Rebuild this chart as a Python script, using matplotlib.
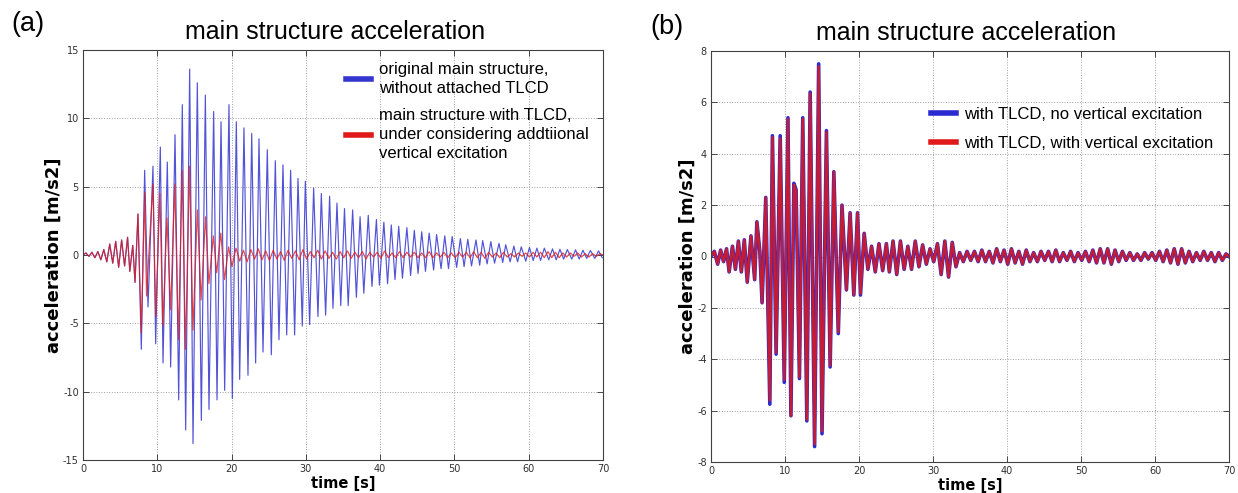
import matplotlib
matplotlib.use("Agg")
import matplotlib.pyplot as plt
import numpy as np

plt.rcParams["axes.unicode_minus"] = False

# ================= panel (a) =================
# shared low-level start of both traces (extrema, time s / acceleration m/s2)
early_t = [0.0, 0.4, 0.8, 1.2, 1.6, 2.0, 2.4, 2.8, 3.2, 3.6, 4.0, 4.4, 4.8, 5.2, 5.6, 6.0, 6.3, 6.7, 7.0, 7.4]
early_v = [0.0, 0.15, -0.1, 0.2, -0.2, 0.25, -0.35, 0.4, -0.5, 0.8, -0.6, 1.0, -0.9, 1.1, -0.8, 1.3, -1.2, 0.7, -2.0, 3.0]

# original main structure (no TLCD): peaks and troughs
orig_peak_t = [8.3, 9.42, 10.41, 11.35, 12.39, 13.37, 14.36, 15.39, 16.47, 17.59, 18.58, 19.65, 20.64, 21.67,
               22.71, 23.69, 24.81, 25.89, 26.92, 27.95, 28.94, 29.93, 31.05, 32.08, 33.2, 34.19, 35.2, 36.3,
               37.3, 38.4, 39.5, 40.5, 41.5, 42.5, 43.6, 44.6, 45.6, 46.6, 47.6, 48.7, 49.7, 50.8, 51.8, 52.9,
               53.8, 54.9, 56.0, 56.9, 58.0, 59.0, 60.1, 61.1, 62.1, 63.2, 64.2, 65.2, 66.3, 67.3, 68.3, 69.4]
orig_peak_v = [6.2, 6.5, 7.9, 6.8, 8.8, 11.0, 13.6, 12.6, 11.7, 10.5, 9.75, 11.0, 9.75, 9.3, 8.9, 8.5, 7.7,
               6.9, 6.6, 6.2, 5.6, 5.4, 4.9, 4.5, 4.3, 3.8, 3.4, 3.3, 2.8, 2.9, 2.6, 2.4, 2.2, 2.1, 2.0, 1.8,
               1.7, 1.6, 1.5, 1.4, 1.35, 1.2, 1.15, 1.1, 1.05, 0.98, 0.85, 0.75, 0.65, 0.6, 0.55, 0.5, 0.5,
               0.45, 0.42, 0.4, 0.38, 0.35, 0.33, 0.3]
orig_trough_t = [7.85, 8.75, 9.78, 10.77, 11.8, 12.88, 13.82, 14.81, 15.93, 16.96, 18.04, 19.07, 20.1, 21.09,
                 22.21, 23.24, 24.23, 25.35, 26.38, 27.42, 28.49, 29.52, 30.51, 31.63, 32.66, 33.65, 34.7,
                 35.7, 36.8, 37.8, 38.9, 39.9, 41.0, 42.0, 43.0, 44.1, 45.1, 46.1, 47.2, 48.2, 49.2, 50.3,
                 51.3, 52.3, 53.4, 54.4, 55.4, 56.5, 57.5, 58.5, 59.6, 60.6, 61.6, 62.7, 63.7, 64.7, 65.8,
                 66.8, 67.8, 68.9, 69.9]
orig_trough_v = [-6.9, -3.8, -6.5, -7.9, -8.2, -10.6, -12.8, -13.8, -12.1, -11.3, -10.6, -9.9, -10.5, -9.1,
                 -8.8, -7.9, -7.1, -7.3, -6.2, -5.85, -5.85, -5.2, -5.1, -4.5, -4.4, -3.9, -3.7, -3.7, -3.1,
                 -2.8, -2.3, -2.2, -2.1, -1.8, -1.7, -1.5, -1.35, -1.2, -1.1, -1.0, -1.0, -0.9, -0.85, -0.8,
                 -0.75, -0.65, -0.6, -0.55, -0.5, -0.5, -0.45, -0.4, -0.4, -0.35, -0.35, -0.3, -0.3, -0.3,
                 -0.25, -0.25, -0.2]

# main structure with TLCD (vertical excitation considered)
tlcd_t = [7.85, 8.3, 8.55, 9.4, 9.8, 10.35, 10.75, 11.3, 11.8, 12.35, 12.85, 13.35, 13.8, 14.35, 14.8, 15.4,
          15.9, 16.5, 16.95, 17.55, 18.0, 18.55, 19.05, 19.6, 20.05,
          20.6, 21.1, 21.6, 22.1, 22.6, 23.1, 23.6, 24.1, 24.6, 25.1, 25.6, 26.1, 26.6, 27.1, 27.6, 28.1,
          28.6, 29.1, 29.6, 30.1, 30.6, 31.1, 31.6, 32.1, 32.6, 33.1, 33.6, 34.1, 34.6, 35.1, 35.6, 36.1,
          36.6, 37.1, 37.6, 38.1, 38.6, 39.1, 39.6, 40.1, 40.6, 41.1, 41.6, 42.1, 42.6, 43.1, 43.6, 44.1,
          44.6, 45.1, 45.6, 46.1, 46.6, 47.1, 47.6, 48.1, 48.6, 49.1, 49.6, 50.1, 50.6, 51.1, 51.6, 52.1,
          52.6, 53.1, 53.6, 54.1, 54.6, 55.1, 55.6, 56.1, 56.6, 57.1, 57.6, 58.1, 58.6, 59.1, 59.6, 60.1,
          60.6, 61.1, 61.6, 62.1, 62.6, 63.1, 63.6, 64.1, 64.6, 65.1, 65.6, 66.1, 66.6, 67.1, 67.6, 68.1,
          68.6, 69.1, 69.6, 70.0]
tlcd_v = [-5.7, 4.6, -3.0, 5.2, -4.5, 4.5, -5.2, 2.7, -4.0, 5.2, -6.2, 6.2, -6.9, 6.5, -5.5, 3.3,
          -3.3, 2.8, -2.1, 1.4, -1.3, 1.6, -1.8, 0.6, -0.85,
          0.5, -0.45, 0.35, -0.5, 0.4, -0.3, 0.45, -0.35, 0.3, -0.4, 0.35, -0.3, 0.25, -0.4, 0.35, -0.25,
          0.3, -0.35, 0.4, -0.3, 0.25, -0.2, 0.35, -0.3, 0.3, -0.25, 0.2, -0.3, 0.25, -0.2, 0.3, -0.25,
          0.2, -0.2, 0.25, -0.3, 0.2, -0.15, 0.2, -0.25, 0.3, -0.2, 0.15, -0.2, 0.25, -0.2, 0.2, -0.15,
          0.2, -0.2, 0.15, -0.2, 0.25, -0.2, 0.15, -0.15, 0.2, -0.2, 0.15, -0.2, 0.2, -0.15, 0.2, -0.2,
          0.25, -0.2, 0.2, -0.25, 0.2, -0.15, 0.15, -0.2, 0.2, -0.15, 0.1, -0.15, 0.15, -0.1, 0.15, -0.15,
          0.2, -0.15, 0.2, -0.2, 0.25, -0.2, 0.2, -0.2, 0.15, -0.15, 0.15, -0.1, 0.15, -0.15, 0.1, -0.15,
          0.1, -0.1, 0.1, 0.0]

# ================= panel (b) =================
b_t = [0.0, 0.45, 0.9, 1.3, 1.7, 2.1, 2.45, 2.9, 3.3, 3.7, 4.1, 4.5, 4.9, 5.4, 5.9, 6.2, 6.6, 6.9, 7.4,
       7.95, 8.3, 8.8, 9.35, 9.9, 10.4, 10.8, 11.2, 11.5, 11.95, 12.4, 12.95, 13.4, 14.0, 14.55, 15.0,
       15.6, 16.1, 16.6, 17.2, 17.7, 18.3, 18.8, 19.3, 19.8, 20.2, 20.7, 21.2, 21.7, 22.2, 22.7, 23.2,
       23.7, 24.1, 24.6, 25.1, 25.6, 26.1, 26.6, 27.1, 27.6, 28.1, 28.6, 29.1, 29.6, 30.1, 30.6, 31.1,
       31.6, 32.1, 32.6, 33.1, 33.6, 34.1, 34.6, 35.1, 35.6, 36.1, 36.6, 37.1, 37.6, 38.1, 38.6, 39.1,
       39.6, 40.1, 40.6, 41.1, 41.6, 42.1, 42.6, 43.1, 43.6, 44.1, 44.6, 45.1, 45.6, 46.1, 46.6, 47.1,
       47.6, 48.1, 48.6, 49.1, 49.6, 50.1, 50.6, 51.1, 51.6, 52.1, 52.6, 53.1, 53.6, 54.1, 54.6, 55.1,
       55.6, 56.1, 56.6, 57.1, 57.6, 58.1, 58.6, 59.1, 59.6, 60.1, 60.6, 61.1, 61.6, 62.1, 62.6, 63.1,
       63.6, 64.1, 64.6, 65.1, 65.6, 66.1, 66.6, 67.1, 67.6, 68.1, 68.6, 69.1, 69.6, 70.0]
b_novert = [0.0, 0.2, -0.3, 0.25, -0.2, 0.3, -0.6, 0.4, -0.5, 0.6, -0.6, 0.65, -1.0, 0.8, -0.9, 1.35, 0.2,
            -1.8, 2.3, -5.75, 4.7, -3.8, 4.7, -4.9, 5.4, -6.2, 2.85, 2.6, -4.75, 5.4, -6.4, 6.4, -7.4, 7.5,
            -6.9, 4.9, -4.3, 3.3, -3.0, 2.0, -1.3, 1.7, -1.5, 1.7, -1.5, 0.9, -0.5, 0.4, -0.6, 0.5, -0.55,
            0.5, -0.6, 0.6, -0.7, 0.6, -0.5, 0.4, -0.5, 0.6, -0.4, 0.45, -0.3, 0.3, -0.2, 0.5, -0.7, 0.6,
            -0.8, 0.55, -0.4, 0.15, -0.2, 0.2, -0.15, 0.2, -0.2, 0.25, -0.2, 0.2, -0.25, 0.3, -0.2, 0.25,
            -0.3, 0.3, -0.25, 0.2, -0.3, 0.25, -0.2, 0.15, -0.2, 0.2, -0.15, 0.2, -0.2, 0.25, -0.2, 0.15,
            -0.15, 0.2, -0.2, 0.15, -0.15, 0.2, -0.2, 0.25, -0.25, 0.3, -0.25, 0.3, -0.3, 0.25, -0.2, 0.2,
            -0.15, 0.15, -0.15, 0.1, -0.15, 0.15, -0.1, 0.15, -0.15, 0.2, -0.2, 0.25, -0.25, 0.3, -0.3,
            0.3, -0.25, 0.2, -0.2, 0.15, -0.15, 0.2, -0.15, 0.15, -0.2, 0.15, -0.15, 0.1, 0.0]
b_vert = [0.0, 0.2, -0.3, 0.25, -0.2, 0.3, -0.6, 0.4, -0.5, 0.6, -0.6, 0.65, -1.0, 0.8, -0.9, 1.35, 0.2,
          -1.8, 2.3, -5.6, 4.65, -3.75, 4.6, -4.8, 5.35, -6.2, 2.8, 2.55, -4.7, 5.35, -6.35, 6.35, -7.3, 7.4,
          -6.8, 4.85, -4.25, 3.3, -2.95, 2.0, -1.3, 1.7, -1.5, 1.7, -1.45, 0.9, -0.5, 0.4, -0.6, 0.5, -0.55,
          0.5, -0.6, 0.6, -0.7, 0.6, -0.5, 0.4, -0.5, 0.6, -0.4, 0.45, -0.3, 0.3, -0.2, 0.5, -0.7, 0.6,
          -0.8, 0.55, -0.4, 0.15, -0.2, 0.2, -0.15, 0.2, -0.2, 0.25, -0.2, 0.2, -0.25, 0.3, -0.2, 0.25,
          -0.3, 0.3, -0.25, 0.2, -0.3, 0.25, -0.2, 0.15, -0.2, 0.2, -0.15, 0.2, -0.2, 0.25, -0.2, 0.15,
          -0.15, 0.2, -0.2, 0.15, -0.15, 0.2, -0.2, 0.25, -0.25, 0.3, -0.25, 0.3, -0.3, 0.25, -0.2, 0.2,
          -0.15, 0.15, -0.15, 0.1, -0.15, 0.15, -0.1, 0.15, -0.15, 0.2, -0.2, 0.25, -0.25, 0.3, -0.3,
          0.3, -0.25, 0.2, -0.2, 0.15, -0.15, 0.2, -0.15, 0.15, -0.2, 0.15, -0.15, 0.1, 0.0]

title_text = "main structure acceleration"
a_labels = ["original main structure,\nwithout attached TLCD",
            "main structure with TLCD,\nunder considering addtiional\nvertical excitation"]
b_labels = ["with TLCD, no vertical excitation", "with TLCD, with vertical excitation"]
x_ticks = [0, 10, 20, 30, 40, 50, 60, 70]
a_yticks = [-15, -10, -5, 0, 5, 10, 15]
b_yticks = [-8, -6, -4, -2, 0, 2, 4, 6, 8]

# ---------- assemble series ----------
ot = np.array(early_t + orig_peak_t + orig_trough_t)
ov = np.array(early_v + orig_peak_v + orig_trough_v)
order = np.argsort(ot)
ot, ov = ot[order], ov[order]
rt = np.array(early_t + tlcd_t)
rv = np.array(early_v + tlcd_v)

W, H = 1238, 493
fig = plt.figure(figsize=(W / 100, H / 100), dpi=100)
ax1 = fig.add_axes([83 / W, 1 - 460 / H, 520 / W, 410 / H])
ax2 = fig.add_axes([711 / W, 1 - 462 / H, 518 / W, 411 / H])

BLUE = "#3535d0"
RED = "#e01a1a"

ax1.plot(ot, ov, color=BLUE, lw=0.85, alpha=0.85, label=a_labels[0])
ax1.plot(rt, rv, color=RED, lw=0.85, alpha=0.8, label=a_labels[1])
ax1.set_ylim(-15, 15)
ax1.set_yticks(a_yticks)

ax2.plot(b_t, b_novert, color="#2a2ad0", lw=2.6, label=b_labels[0])
ax2.plot(b_t, b_vert, color=RED, lw=1.8, alpha=0.85, label=b_labels[1])
ax2.set_ylim(-8, 8)
ax2.set_yticks(b_yticks)

title_x = {ax1: 0.485, ax2: 0.492}
for ax in (ax1, ax2):
    ax.set_xlim(0, 70)
    ax.set_xticks(x_ticks)
    ax.grid(True, linestyle=":", color="#a0a0a0", lw=0.7)
    ax.tick_params(direction="in", length=4, width=0.6, labelsize=7, top=True, right=True,
                   colors="#303030", pad=3)
    for s in ax.spines.values():
        s.set_color("#404040")
        s.set_linewidth(0.8)
    ax.set_xlabel("time [s]", fontsize=10.5, fontweight="bold", labelpad=1)
    ax.set_ylabel("acceleration [m/s2]", fontsize=13, fontweight="bold", labelpad=0)
    ax.set_title(title_text, fontsize=18, family="Liberation Sans", pad=8, x=title_x[ax])

fig.text(11 / W, 1 - 24 / H, "(a)", fontsize=19.5, family="Liberation Sans", va="center", ha="left")
fig.text(650 / W, 1 - 27 / H, "(b)", fontsize=19.5, family="Liberation Sans", va="center", ha="left")

leg1 = ax1.legend(loc="upper left", bbox_to_anchor=(346 / W, 1 - 62 / H), bbox_transform=fig.transFigure,
                  frameon=False, prop={"family": "Liberation Sans", "size": 12}, handlelength=1.5,
                  handletextpad=0.5, labelspacing=0.7, borderpad=0, borderaxespad=0)
leg2 = ax2.legend(loc="upper left", bbox_to_anchor=(931 / W, 1 - 107 / H), bbox_transform=fig.transFigure,
                  frameon=False, prop={"family": "Liberation Sans", "size": 12}, handlelength=1.5,
                  handletextpad=0.5, labelspacing=0.85, borderpad=0, borderaxespad=0)
for t in leg1.get_texts():
    t.set_linespacing(1.35)
for leg in (leg1, leg2):
    for h in leg.get_lines():
        h.set_linewidth(4)
        h.set_alpha(1)

fig.savefig("out.png", dpi=100)
